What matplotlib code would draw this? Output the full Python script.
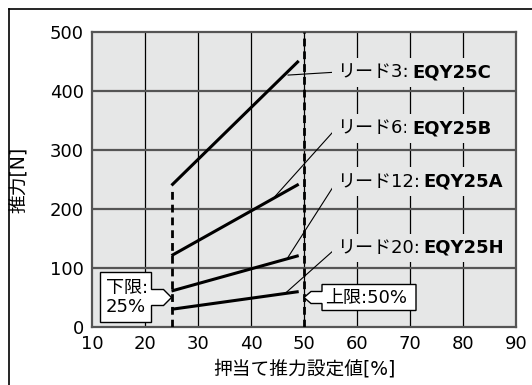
import matplotlib
matplotlib.use("Agg")
import matplotlib.pyplot as plt
from matplotlib.patches import Polygon
from matplotlib.lines import Line2D
from matplotlib.transforms import Affine2D, ScaledTranslation

plt.rcParams['font.family'] = ['DejaVu Sans', 'Noto Sans CJK JP']

# push-force setting [%] at the two ends of each line
x_set = [25, 49]
# thrust [N] for each lead
leads = ['リード3:', 'リード6:', 'リード12:', 'リード20:']
models = ['EQY25C', 'EQY25B', 'EQY25A', 'EQY25H']
thrust = [[240, 451], [121, 242], [61, 121], [30, 60]]
# where each leader line touches its curve, and where its label sits
leader_pts = [(47, 427), (44.5, 221), (46.9, 117), (46.7, 59)]
label_y = [432, 337, 246, 134]
label_x = 56.3

lower_limit = 25
upper_limit = 50
lower_top = 232
callout_y = 50

xticks = [10, 20, 30, 40, 50, 60, 70, 80, 90]
yticks = [0, 100, 200, 300, 400, 500]

bg = '#e6e7e7'
fs = 13

fig = plt.figure(figsize=(5.32, 3.85), dpi=100)
ax = fig.add_axes([92/532, 1-327/385, 424/532, 295/385])
ax.set_facecolor(bg)
ax.set_xlim(10, 90)
ax.set_ylim(0, 500)
ax.set_xticks(xticks)
ax.set_yticks(yticks)
ax.tick_params(length=0, labelsize=fs, pad=6)

# grid: vertical black thin, horizontal dark gray thicker
for x in xticks[1:-1]:
    ax.axvline(x, color='black', lw=0.9, zorder=1)
for y in yticks[1:-1]:
    ax.axhline(y, color='#555555', lw=1.6, zorder=1)
for s in ax.spines.values():
    s.set_color('#555555')
    s.set_linewidth(1.6)

# limit lines
ax.plot([lower_limit, lower_limit], [0, lower_top], color='black', lw=2.0,
        ls=(0, (2.8, 1.8)), zorder=3)
ax.plot([upper_limit, upper_limit], [0, 500], color='black', lw=2.0,
        ls=(0, (2.8, 1.8)), zorder=3)

# thrust lines
for vals in thrust:
    ax.plot(x_set, vals, color='black', lw=2.2, zorder=4, solid_capstyle='butt')

# labels with leader lines
for lead, model, (px, py), ly in zip(leads, models, leader_pts, label_y):
    ax.plot([px, label_x - 0.2], [py, ly], color='black', lw=0.8, zorder=4)
    t1 = ax.text(label_x, ly, lead, fontsize=fs, va='center', ha='left', zorder=5,
                 bbox=dict(boxstyle='square,pad=0.3', fc=bg, ec='none'))
    ax.annotate(model, xy=(1, 0.5), xycoords=t1, xytext=(3, 0),
                textcoords='offset pixels', va='center', ha='left',
                fontsize=fs, fontweight='bold', zorder=5,
                bbox=dict(boxstyle='square,pad=0.3', fc=bg, ec='none'))


def callout(xv, yv, verts, text, text_off):
    # box with a pointing tab; vertices are pixel offsets from the tip
    tr = Affine2D() + ScaledTranslation(xv, yv, ax.transData)
    ax.add_patch(Polygon(verts, closed=True, fc='white', ec='black', lw=1,
                         transform=tr, zorder=6, clip_on=False))
    ax.annotate(text, xy=(xv, yv), xytext=text_off, textcoords='offset pixels',
                fontsize=fs, ha='left', va='center', linespacing=1.1, zorder=7)


callout(lower_limit, callout_y,
        [(0, 0), (-8, 8), (-20, 8), (-20, 25), (-71, 25), (-71, -25),
         (-20, -25), (-20, -8), (-8, -8)],
        '下限:\n25%', (-66, 0))
callout(upper_limit, callout_y,
        [(0, 0), (7, 6), (18, 6), (18, 13), (112, 13), (112, -13),
         (18, -13), (18, -6), (7, -6)],
        '上限:50%', (21, 0))

ax.set_xlabel('押当て推力設定値[%]', fontsize=13.5, va='center')
ax.xaxis.set_label_coords(0.5, -(369 - 327) / 295)
ax.set_ylabel('推力[N]', fontsize=13.5, va='center')
ax.yaxis.set_label_coords(-(92 - 20) / 424, 0.5)

# outer frame (cropped on the right and bottom)
fig.add_artist(Line2D([9/532, 1], [1 - 9/385, 1 - 9/385], color='black', lw=1.2,
                      transform=fig.transFigure))
fig.add_artist(Line2D([9/532, 9/532], [0, 1 - 9/385], color='black', lw=1.2,
                      transform=fig.transFigure))

fig.savefig('out.png', dpi=100)
